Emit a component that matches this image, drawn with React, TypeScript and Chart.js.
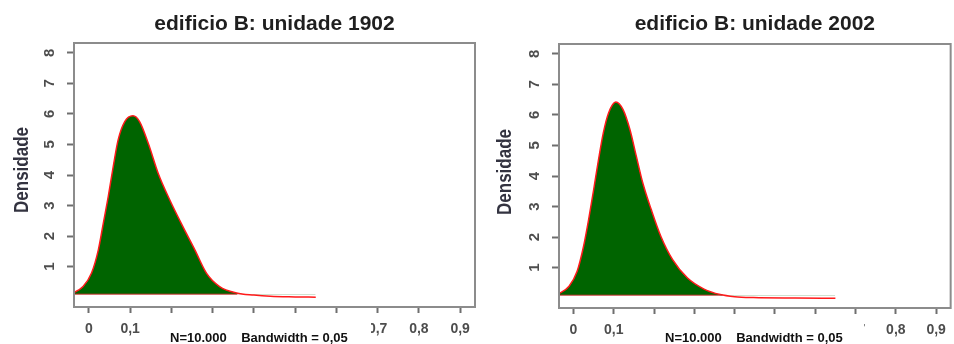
import React, { useEffect, useRef } from 'react';
import { Chart, registerables } from 'chart.js';

Chart.register(...registerables);

// ---------- data ----------
const TITLE_LEFT = 'edificio B: unidade 1902';
const TITLE_RIGHT = 'edificio B: unidade 2002';
const Y_TITLE = 'Densidade';
const NOTE = 'N=10.000    Bandwidth = 0,05';

const Y_TICKS = [1, 2, 3, 4, 5, 6, 7, 8];
const X_TICKS = [0, 0.1, 0.2, 0.3, 0.4, 0.5, 0.6, 0.7, 0.8, 0.9];
const X_LABELS = ['0', '0,1', '0,2', '0,3', '0,4', '0,5', '0,6', '0,7', '0,8', '0,9'];

const X_MIN = -0.036;
const X_MAX = 0.936;
const Y_MIN = -0.32;
const Y_MAX = 8.32;
const BASE_Y = 0.1;

// unidade 1902 density
const L_X = [-0.06, -0.036, -0.014, 0.0065, 0.023, 0.035, 0.047, 0.059, 0.071, 0.087, 0.107, 0.123, 0.144, 0.168, 0.196, 0.228, 0.257, 0.285, 0.317, 0.358, 0.4, 0.44, 0.5, 0.55];
const L_Y = [0.08, 0.16, 0.35, 0.79, 1.55, 2.42, 3.29, 4.27, 5.15, 5.75, 5.94, 5.75, 5.04, 4.06, 3.19, 2.31, 1.55, 0.79, 0.35, 0.14, 0.07, 0.03, 0.01, 0.0];
const L_BASE_X = [-0.06, 0.36];

// unidade 2002 density
const R_X = [-0.06, -0.034, -0.011, 0.009, 0.025, 0.0375, 0.05, 0.062, 0.074, 0.087, 0.105, 0.123, 0.14, 0.156, 0.172, 0.193, 0.217, 0.246, 0.283, 0.324, 0.364, 0.4, 0.446, 0.55, 0.65];
const R_Y = [0.08, 0.17, 0.39, 0.88, 1.7, 2.57, 3.55, 4.53, 5.41, 6.06, 6.42, 6.17, 5.52, 4.64, 3.77, 2.9, 2.02, 1.26, 0.66, 0.3, 0.12, 0.05, 0.02, 0.005, 0.0];
const R_BASE_X = [-0.06, 0.37];

// ---------- styles ----------
const SANS = "'Liberation Sans', Arial, sans-serif";
const GREEN = '#006400';
const RED = '#ff1a1a';
const BOX = '#8c8c8c';
const TICK = '#6e6e6e';

type PanelProps = {
  title: string;
  xs: number[];
  ys: number[];
  baseXs: number[];
  width: number;
  padRight: number;
  yAxisWidth: number;
  xAxisHeight: number;
  titleBottom: number;
  yTitlePos: [number, number];
  noteRect: [number, number];
  noteX: number;
};

function DensityPanel(p: PanelProps) {
  const ref = useRef<HTMLCanvasElement>(null);

  useEffect(() => {
    const canvas = ref.current;
    if (!canvas) return;

    const boxNote = {
      id: 'boxNote',
      afterDatasetsDraw(chart: any) {
        const { ctx, chartArea: a } = chart;
        ctx.save();
        ctx.strokeStyle = BOX;
        ctx.lineWidth = 2;
        ctx.strokeRect(a.left, a.top, a.right - a.left, a.bottom - a.top);
        ctx.restore();
      },
      afterDraw(chart: any) {
        const c = chart.ctx;
        c.save();
        // y-axis title, condensed like the original
        c.translate(p.yTitlePos[0], p.yTitlePos[1]);
        c.rotate(-Math.PI / 2);
        c.scale(1, 1.22);
        c.fillStyle = '#333340';
        c.font = `bold 17px ${SANS}`;
        c.textAlign = 'center';
        c.textBaseline = 'middle';
        c.fillText(Y_TITLE, 0, 0);
        c.restore();

        c.save();
        c.fillStyle = '#ffffff';
        c.fillRect(p.noteRect[0], 316, p.noteRect[1] - p.noteRect[0], 28);
        c.fillStyle = '#111111';
        c.font = `bold 13px ${SANS}`;
        c.textAlign = 'left';
        c.textBaseline = 'alphabetic';
        c.fillText(NOTE, p.noteX, 342);
        c.restore();
      },
    };

    const chart = new Chart(canvas, {
      type: 'line',
      data: {
        datasets: [
          {
            data: p.xs.map((x, i) => ({ x, y: p.ys[i] })),
            borderColor: RED,
            borderWidth: 1.5,
            pointRadius: 0,
            cubicInterpolationMode: 'monotone',
            order: 1,
            fill: { target: { value: BASE_Y }, above: GREEN, below: 'rgba(0,0,0,0)' },
          },
          {
            data: p.baseXs.map((x) => ({ x, y: BASE_Y })),
            borderColor: '#c0302a',
            borderWidth: 1,
            pointRadius: 0,
            order: 0,
            fill: false,
          },
        ],
      } as any,
      options: {
        animation: false,
        responsive: false,
        events: [],
        layout: { padding: { left: 0, right: p.padRight, top: 0, bottom: 0 } },
        plugins: {
          legend: { display: false },
          tooltip: { enabled: false },
          title: {
            display: true,
            text: p.title,
            fullSize: false,
            color: '#1f1f1f',
            font: { family: SANS, size: 21, weight: 'bold' },
            padding: { top: 12, bottom: p.titleBottom },
          },
        },
        scales: {
          x: {
            type: 'linear',
            min: X_MIN,
            max: X_MAX,
            afterBuildTicks: (s: any) => {
              s.ticks = X_TICKS.map((v) => ({ value: v }));
            },
            afterFit: (s: any) => {
              s.height = p.xAxisHeight;
            },
            grid: { drawOnChartArea: false, drawTicks: true, tickLength: 6, tickColor: TICK, tickWidth: 2 },
            border: { display: false },
            ticks: {
              autoSkip: false,
              maxRotation: 0,
              minRotation: 0,
              padding: 8,
              color: '#4d4d4d',
              font: { family: SANS, size: 14, weight: 'bold' },
              callback: (_v: any, i: number) => X_LABELS[i],
            },
          },
          y: {
            type: 'linear',
            min: Y_MIN,
            max: Y_MAX,
            afterBuildTicks: (s: any) => {
              s.ticks = Y_TICKS.map((v) => ({ value: v }));
            },
            afterFit: (s: any) => {
              s.width = p.yAxisWidth;
            },
            grid: { drawOnChartArea: false, drawTicks: true, tickLength: 7, tickColor: TICK, tickWidth: 2 },
            border: { display: false },
            ticks: {
              minRotation: 90,
              maxRotation: 90,
              crossAlign: 'center',
              padding: 13,
              color: '#4d4d4d',
              font: { family: SANS, size: 15, weight: 'bold' },
              callback: (v: any) => String(v),
            },
          },
        },
      } as any,
      plugins: [boxNote],
    });

    return () => chart.destroy();
  }, []);

  return <canvas ref={ref} width={p.width} height={344} style={{ display: 'block' }} />;
}

export default function App() {
  return (
    <div
      style={{
        position: 'fixed',
        left: 0,
        top: 0,
        width: 954,
        height: 344,
        display: 'flex',
        background: '#ffffff',
      }}
    >
      <DensityPanel
        title={TITLE_LEFT}
        xs={L_X}
        ys={L_Y}
        baseXs={L_BASE_X}
        width={480}
        padRight={5}
        yAxisWidth={74}
        xAxisHeight={37}
        titleBottom={5.8}
        yTitlePos={[22, 170]}
        noteRect={[145, 371]}
        noteX={170}
      />
      <DensityPanel
        title={TITLE_RIGHT}
        xs={R_X}
        ys={R_Y}
        baseXs={R_BASE_X}
        width={474}
        padRight={1}
        yAxisWidth={79}
        xAxisHeight={36}
        titleBottom={6.8}
        yTitlePos={[25, 172]}
        noteRect={[148, 384]}
        noteX={185}
      />
    </div>
  );
}
